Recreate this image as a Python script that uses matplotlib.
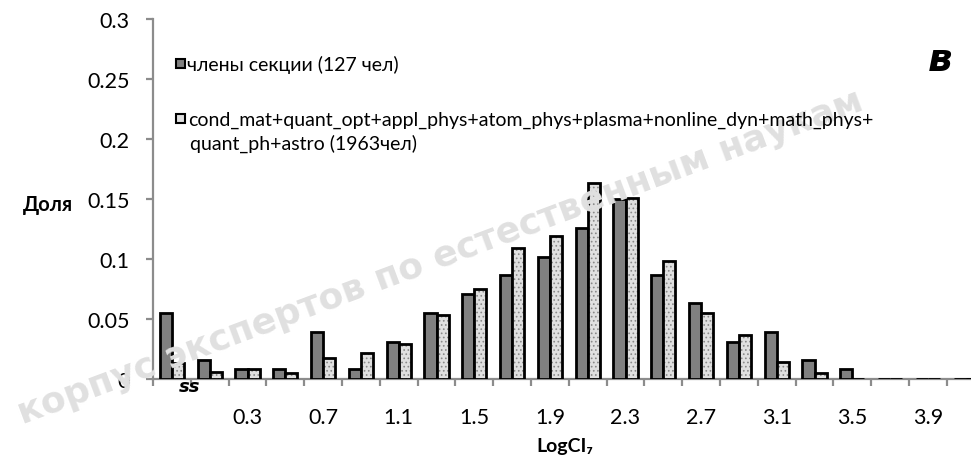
import numpy as np
import matplotlib
matplotlib.use("Agg")
import matplotlib.pyplot as plt
from matplotlib.patches import Rectangle

# ---- data ----
categories = ['', '0.1', '0.3', '0.5', '0.7', '0.9', '1.1', '1.3', '1.5', '1.7', '1.9',
              '2.1', '2.3', '2.5', '2.7', '2.9', '3.1', '3.3', '3.5', '3.7', '3.9', '4.1']
section_members = [0.055, 0.016, 0.008, 0.008, 0.039, 0.008, 0.031, 0.055, 0.071, 0.087, 0.102,
                   0.126, 0.150, 0.087, 0.063, 0.031, 0.039, 0.016, 0.008, 0.0, 0.0, 0.0]
all_fields = [0.013, 0.006, 0.008, 0.005, 0.0175, 0.022, 0.029, 0.0535, 0.075, 0.109, 0.119,
              0.1635, 0.151, 0.098, 0.055, 0.0365, 0.0145, 0.005, 0.0, 0.0, 0.0, 0.0]
y_ticks = [0, 0.05, 0.1, 0.15, 0.2, 0.25, 0.3]
y_tick_labels = ['0', '0.05', '0.1', '0.15', '0.2', '0.25', '0.3']
legend_labels = ['члены секции (127 чел)',
                 'cond_mat+quant_opt+appl_phys+atom_phys+plasma+nonline_dyn+math_phys+\nquant_ph+astro (1963чел)']

plt.rcParams['font.family'] = ['Lato', 'DejaVu Sans']
plt.rcParams['hatch.linewidth'] = 0.7

W, H = 971, 464
fig = plt.figure(figsize=(W / 100, H / 100), dpi=100)
step = 37.8
n = len(categories)
ax = fig.add_axes([153 / W, (H - 380) / H, n * step / W, 360 / H])

x = np.arange(n)
bw = 0.32
off = 0.16
GRAY = '#8c8c8c'

# watermark (behind)
fig.text(440 / W, 1 - 258 / H, 'корпус экспертов по естественным наукам',
         rotation=20.5, ha='center', va='center', fontsize=26, fontweight='bold',
         family='DejaVu Sans', color='#e0e0e0', zorder=0)

ax.patch.set_alpha(0)
ax.bar(x - off, section_members, bw, color='#808080', edgecolor='black', linewidth=2, zorder=3)
ax.bar(x + off, all_fields, bw, color='#e0e0e0', edgecolor='#8a8a8a', hatch='....',
       linewidth=0, zorder=3)
ax.bar(x + off, all_fields, bw, fill=False, edgecolor='black', linewidth=2, zorder=4)

ax.set_xlim(-0.5, n - 0.5)
ax.set_ylim(0, 0.3)
for s in ['top', 'right']:
    ax.spines[s].set_visible(False)
for s in ['left', 'bottom']:
    ax.spines[s].set_color(GRAY)
    ax.spines[s].set_linewidth(1.6)

ax.set_yticks(y_ticks)
ax.set_yticklabels(y_tick_labels)
ax.tick_params(axis='y', direction='out', length=5, width=1.6, color=GRAY, pad=12,
               labelsize=15.5, labelcolor='black')

major = x[::2]
ax.set_xticks(major)
ax.set_xticklabels([categories[i] for i in major])
ax.set_xticks(np.arange(-0.5, n, 1), minor=True)
ax.tick_params(axis='x', which='major', length=0, pad=20, labelsize=15.5)
ax.tick_params(axis='x', which='minor', direction='out', length=5, width=1.6, color=GRAY)

# axis break symbol
fig.text(190 / W, 1 - 387 / H, 'ss', ha='center', va='center', fontsize=13,
         fontweight='bold', fontstyle='italic', family='DejaVu Sans', color='black', zorder=6)

# labels
fig.text(48 / W, 1 - 205 / H, 'Доля', ha='center', va='center', fontsize=14.5, fontweight='bold')
fig.text(565 / W, 1 - 447 / H, 'LogCI₇', ha='center', va='center', fontsize=14, fontweight='bold')
fig.text(940 / W, 1 - 60 / H, 'в', ha='center', va='center', fontsize=28,
         fontweight='bold', fontstyle='italic', family='DejaVu Sans')

# legend (manual)
fs = 14
fig.patches.append(Rectangle((176 / W, 1 - 69 / H), 9 / W, 9 / H, transform=fig.transFigure,
                             facecolor='#808080', edgecolor='black', linewidth=1.5))
fig.text(187 / W, 1 - 65 / H, legend_labels[0], ha='left', va='center', fontsize=fs)
fig.patches.append(Rectangle((176 / W, 1 - 124 / H), 9 / W, 9 / H, transform=fig.transFigure,
                             facecolor='#e0e0e0', edgecolor='black', linewidth=1.5))
l1, l2 = legend_labels[1].split('\n')
fig.text(188 / W, 1 - 120 / H, l1, ha='left', va='center', fontsize=fs)
fig.text(190 / W, 1 - 144 / H, l2, ha='left', va='center', fontsize=fs)

fig.savefig('out.png', dpi=100)
